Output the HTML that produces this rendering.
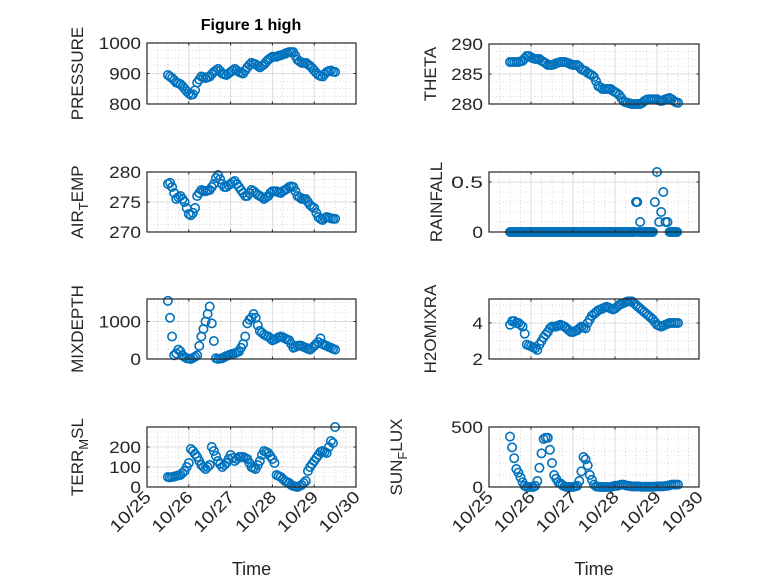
<!DOCTYPE html>
<html><head><meta charset="utf-8">
<style>
html,body{margin:0;padding:0;background:#fff;}
svg{display:block;font-family:"Liberation Sans","DejaVu Sans",sans-serif;}
</style></head>
<body>
<svg id="fig" width="778" height="583" viewBox="0 0 778 583">
<rect x="0" y="0" width="778" height="583" fill="#fff"/>
<text x="251" y="30" text-anchor="middle" font-size="16" font-weight="bold" fill="#000">Figure 1 high</text>
</svg>
<script>
// ---- data ----
const pressureT=[25.5,25.55,25.6,25.65,25.7,25.75,25.8,25.85,25.9,25.95,26.0,26.05,26.1,26.15,26.2,26.25,26.3,26.35,26.4,26.45,26.5,26.55,26.6,26.65,26.7,26.75,26.8,26.85,26.9,26.95,27.0,27.05,27.1,27.15,27.2,27.25,27.3,27.35,27.4,27.45,27.5,27.55,27.6,27.65,27.7,27.75,27.8,27.85,27.9,27.95,28.0,28.05,28.1,28.15,28.2,28.25,28.3,28.35,28.4,28.45,28.5,28.55,28.6,28.65,28.7,28.75,28.8,28.85,28.9,28.95,29.0,29.05,29.1,29.15,29.2,29.25,29.3,29.35,29.4,29.45,29.5];
const pressureV=[895,890,885,878,870,868,865,858,850,842,835,830,832,845,870,880,890,888,885,888,890,898,905,910,915,908,900,897,895,900,905,910,915,910,905,902,900,910,920,928,935,932,930,925,920,925,930,938,945,950,955,955,955,958,960,962,965,968,970,970,970,958,945,940,935,935,935,930,925,918,910,902,895,892,890,898,905,908,910,906,905];
const airT=[25.5,25.55,25.6,25.65,25.7,25.75,25.8,25.85,25.9,25.95,26.0,26.05,26.1,26.15,26.2,26.25,26.3,26.35,26.4,26.45,26.5,26.55,26.6,26.65,26.7,26.75,26.8,26.85,26.9,26.95,27.0,27.05,27.1,27.15,27.2,27.25,27.3,27.35,27.4,27.45,27.5,27.55,27.6,27.65,27.7,27.75,27.8,27.85,27.9,27.95,28.0,28.05,28.1,28.15,28.2,28.25,28.3,28.35,28.4,28.45,28.5,28.55,28.6,28.65,28.7,28.75,28.8,28.85,28.9,28.95,29.0,29.05,29.1,29.15,29.2,29.25,29.3,29.35,29.4,29.45,29.5];
const airV=[278,278.2,277.5,276.5,275.5,275.8,276,275.5,275,274,273,272.8,273.2,274,276,276.5,277,276.9,276.8,276.9,277,277.5,278,279,279.5,278.8,278,277.5,277.5,277.8,278,278.3,278.5,278,277.5,277,276.5,276,276,276.5,277,276.8,276.5,276.2,276,275.8,275.5,275.8,276,276.5,276.8,276.8,276.8,276.6,276.5,276.8,277,277.2,277.5,277.6,277.5,276.8,276,275.8,275.5,275.5,275.5,275,274.5,274.2,274,273.2,272.5,272.2,272,272.3,272.5,272.4,272.3,272.2,272.2];
const thetaT=[25.5,25.55,25.6,25.65,25.7,25.75,25.8,25.85,25.9,25.95,26.0,26.05,26.1,26.15,26.2,26.25,26.3,26.35,26.4,26.45,26.5,26.55,26.6,26.65,26.7,26.75,26.8,26.85,26.9,26.95,27.0,27.05,27.1,27.15,27.2,27.25,27.3,27.35,27.4,27.45,27.5,27.55,27.6,27.65,27.7,27.75,27.8,27.85,27.9,27.95,28.0,28.05,28.1,28.15,28.2,28.25,28.3,28.35,28.4,28.45,28.5,28.55,28.6,28.65,28.7,28.75,28.8,28.85,28.9,28.95,29.0,29.05,29.1,29.15,29.2,29.25,29.3,29.35,29.4,29.45,29.5];
const thetaV=[287,287,287,287,287,287.1,287.2,287.6,288,288,287.8,287.6,287.5,287.5,287.5,287.2,287,286.8,286.5,286.5,286.5,286.6,286.8,286.9,287,287,287,286.9,286.8,286.6,286.5,286.5,286.5,286.2,285.8,285.6,285.5,285.2,285,284.8,284.5,283.8,283,282.8,282.5,282.5,282.5,282.5,282.5,282.2,282,281.8,281.5,281,280.5,280.3,280.2,280.1,280,280,280,280,280,280.2,280.5,280.7,280.8,280.8,280.8,280.8,280.8,280.6,280.5,280.6,280.8,280.9,281,280.8,280.5,280.3,280.2];
const rainT=[25.5,25.53,25.56,25.59,25.62,25.65,25.68,25.71,25.74,25.77,25.8,25.83,25.86,25.89,25.92,25.95,25.98,26.01,26.04,26.07,26.1,26.13,26.16,26.19,26.22,26.25,26.28,26.31,26.34,26.37,26.4,26.43,26.46,26.49,26.52,26.55,26.58,26.61,26.64,26.67,26.7,26.73,26.76,26.79,26.82,26.85,26.88,26.91,26.94,26.97,27.0,27.03,27.06,27.09,27.12,27.15,27.18,27.21,27.24,27.27,27.3,27.33,27.36,27.39,27.42,27.45,27.48,27.51,27.54,27.57,27.6,27.63,27.66,27.69,27.72,27.75,27.78,27.81,27.84,27.87,27.9,27.93,27.96,27.99,28.02,28.05,28.08,28.11,28.14,28.17,28.2,28.23,28.26,28.29,28.32,28.35,28.38,28.41,28.44,28.47,28.5,28.53,28.56,28.6,28.63,28.66,28.69,28.72,28.75,28.78,28.81,28.84,28.87,28.9,28.95,29.0,29.05,29.1,29.15,29.2,29.25,29.3,29.33,29.36,29.39,29.42,29.45,29.48];
const rainV=[0,0,0,0,0,0,0,0,0,0,0,0,0,0,0,0,0,0,0,0,0,0,0,0,0,0,0,0,0,0,0,0,0,0,0,0,0,0,0,0,0,0,0,0,0,0,0,0,0,0,0,0,0,0,0,0,0,0,0,0,0,0,0,0,0,0,0,0,0,0,0,0,0,0,0,0,0,0,0,0,0,0,0,0,0,0,0,0,0,0,0,0,0,0,0,0,0,0,0,0,0.3,0.3,0,0.1,0,0,0,0,0,0,0,0,0,0,0.3,0.6,0.1,0.2,0.4,0.1,0.1,0,0,0,0,0,0,0];
const mixT=[25.5,25.55,25.6,25.65,25.7,25.75,25.8,25.85,25.9,25.95,26.0,26.05,26.1,26.15,26.2,26.25,26.3,26.35,26.4,26.45,26.5,26.55,26.6,26.65,26.7,26.75,26.8,26.85,26.9,26.95,27.0,27.05,27.1,27.15,27.2,27.25,27.3,27.35,27.4,27.45,27.5,27.55,27.6,27.65,27.7,27.75,27.8,27.85,27.9,27.95,28.0,28.05,28.1,28.15,28.2,28.25,28.3,28.35,28.4,28.45,28.5,28.55,28.6,28.65,28.7,28.75,28.8,28.85,28.9,28.95,29.0,29.05,29.1,29.15,29.2,29.25,29.3,29.35,29.4,29.45,29.5];
const mixV=[1550,1100,600,100,150,250,200,100,50,20,10,0,30,60,100,350,600,800,1000,1200,1400,950,480,20,0,10,20,50,80,100,120,140,150,180,200,300,400,600,950,1050,1100,1200,1100,900,750,700,650,620,600,550,500,520,550,580,600,580,550,520,500,400,300,320,350,360,350,320,300,270,250,300,350,400,450,550,400,370,350,320,300,270,250];
const h2oT=[25.5,25.55,25.6,25.65,25.7,25.75,25.8,25.85,25.9,25.95,26.0,26.05,26.1,26.15,26.2,26.25,26.3,26.35,26.4,26.45,26.5,26.55,26.6,26.65,26.7,26.75,26.8,26.85,26.9,26.95,27.0,27.05,27.1,27.15,27.2,27.25,27.3,27.35,27.4,27.45,27.5,27.55,27.6,27.65,27.7,27.75,27.8,27.85,27.9,27.95,28.0,28.05,28.1,28.15,28.2,28.25,28.3,28.35,28.4,28.45,28.5,28.55,28.6,28.65,28.7,28.75,28.8,28.85,28.9,28.95,29.0,29.05,29.1,29.15,29.2,29.25,29.3,29.35,29.4,29.45,29.5];
const h2oV=[3.9,4.1,4.1,4.0,4.0,3.9,3.8,3.4,2.8,2.75,2.7,2.65,2.6,2.5,2.8,3.0,3.2,3.35,3.5,3.7,3.8,3.8,3.8,3.85,3.9,3.85,3.8,3.7,3.6,3.5,3.5,3.55,3.6,3.7,3.8,3.75,3.7,4.0,4.2,4.4,4.5,4.6,4.7,4.75,4.8,4.85,4.9,4.85,4.8,4.75,4.8,4.9,5.0,5.05,5.1,5.15,5.2,5.2,5.2,5.1,5.0,4.9,4.8,4.7,4.6,4.5,4.4,4.3,4.2,4.05,3.9,3.85,3.8,3.85,3.9,3.95,4.0,4.0,4.0,4.0,4.0];
const terrT=[25.5,25.55,25.6,25.65,25.7,25.75,25.8,25.85,25.9,25.95,26.0,26.05,26.1,26.15,26.2,26.25,26.3,26.35,26.4,26.45,26.5,26.55,26.6,26.65,26.7,26.75,26.8,26.85,26.9,26.95,27.0,27.05,27.1,27.15,27.2,27.25,27.3,27.35,27.4,27.45,27.5,27.55,27.6,27.65,27.7,27.75,27.8,27.85,27.9,27.95,28.0,28.05,28.1,28.15,28.2,28.25,28.3,28.35,28.4,28.45,28.5,28.55,28.6,28.65,28.7,28.75,28.8,28.85,28.9,28.95,29.0,29.05,29.1,29.15,29.2,29.25,29.3,29.35,29.4,29.45,29.5];
const terrV=[50,48,50,52,55,58,60,70,80,100,120,190,180,165,150,130,110,100,90,100,110,200,180,155,130,115,100,110,120,140,160,145,130,140,150,150,150,145,140,120,100,95,90,110,130,160,180,175,170,155,140,120,60,55,50,40,30,25,20,10,5,2,0,5,10,20,30,80,100,115,130,145,160,175,180,175,170,200,230,220,300];
const sunT=[25.5,25.55,25.6,25.65,25.7,25.75,25.8,25.85,25.9,25.95,26.0,26.05,26.1,26.15,26.2,26.25,26.3,26.35,26.4,26.45,26.5,26.55,26.6,26.65,26.7,26.75,26.8,26.85,26.9,26.95,27.0,27.05,27.1,27.15,27.2,27.25,27.3,27.35,27.4,27.45,27.5,27.55,27.6,27.65,27.7,27.75,27.8,27.85,27.9,27.95,28.0,28.05,28.1,28.15,28.2,28.25,28.3,28.35,28.4,28.45,28.5,28.55,28.6,28.65,28.7,28.75,28.8,28.85,28.9,28.95,29.0,29.05,29.1,29.15,29.2,29.25,29.3,29.35,29.4,29.45,29.5];
const sunV=[420,330,240,150,120,80,40,10,0,0,0,0,10,50,160,280,400,410,410,310,200,100,70,40,30,15,5,0,0,0,0,5,10,50,130,250,230,180,100,60,20,5,2,0,0,0,0,0,0,5,10,10,15,20,20,15,10,8,5,5,5,5,3,2,2,2,2,2,2,3,5,5,5,5,8,10,15,20,20,20,20];
const xTickLabels=["10/25","10/26","10/27","10/28","10/29","10/30"];
const xTickDays=[25,26,27,28,29,30];
const pressureTicks=[800,900,1000], thetaTicks=[280,285,290], airTicks=[270,275,280], rainTicks=[0,0.5];
const mixTicks=[0,1000], h2oTicks=[2,4], terrTicks=[0,100,200], sunTicks=[0,500];

const NS="http://www.w3.org/2000/svg";
const svg=document.getElementById('fig');
function mk(tag,attrs,parent){const e=document.createElementNS(NS,tag);for(const k in attrs)e.setAttribute(k,attrs[k]);(parent||svg).appendChild(e);return e;}

function panel(o){
  const g=mk('g',{});
  
  
  const L=o.x0,R=o.x1,T=o.y0,B=o.y1;
  const sx=d=>L+(d-25)/5*(R-L);
  const sy=v=>B-(v-o.ymin)/(o.ymax-o.ymin)*(B-T);
  mk('rect',{x:L,y:T,width:R-L,height:B-T,fill:'#fff'},g);
  for(let d=25;d<=30.001;d+=0.25){if(Math.abs(d-Math.round(d))<1e-6)continue;
    mk('line',{x1:sx(d),x2:sx(d),y1:T,y2:B,stroke:'#bbb','stroke-width':0.6,'stroke-dasharray':'1 2.5'},g);}
  for(let v=o.ymin;v<=o.ymax+1e-9;v+=o.minor){
    mk('line',{x1:L,x2:R,y1:sy(v),y2:sy(v),stroke:'#bbb','stroke-width':0.6,'stroke-dasharray':'1 2.5'},g);}
  xTickDays.forEach(d=>mk('line',{x1:sx(d),x2:sx(d),y1:T,y2:B,stroke:'#dcdcdc','stroke-width':1},g));
  o.ticks.forEach(v=>mk('line',{x1:L,x2:R,y1:sy(v),y2:sy(v),stroke:'#dcdcdc','stroke-width':1},g));
  const dg=mk('g',{},g);
  
  
  o.t.forEach((d,i)=>{
    const c=mk('circle',{cx:sx(d),cy:sy(o.v[i]),r:4.2,fill:'none',stroke:'#0072BD','stroke-width':1.6},dg);
    
    
  });
  mk('rect',{x:L,y:T,width:R-L,height:B-T,fill:'none',stroke:'#262626','stroke-width':1.2},g);
  xTickDays.forEach(d=>{mk('line',{x1:sx(d),x2:sx(d),y1:B,y2:B-2.5,stroke:'#262626'},g);mk('line',{x1:sx(d),x2:sx(d),y1:T,y2:T+2.5,stroke:'#262626'},g);});
  o.ticks.forEach(v=>{
    mk('line',{x1:L,x2:L+2.5,y1:sy(v),y2:sy(v),stroke:'#262626'},g);
    mk('line',{x1:R,x2:R-2.5,y1:sy(v),y2:sy(v),stroke:'#262626'},g);
    const s=String(v);
    const t=mk('text',{x:L-6,y:sy(v)+6,'text-anchor':'end','font-size':17,fill:'#262626',textLength:s.length*10.6,lengthAdjust:'spacingAndGlyphs'},g);
    t.textContent=s;
    
    
  });
  const cy=(T+B)/2;
  const yl=mk('text',{x:0,y:0,transform:`translate(${o.lx},${cy}) rotate(-90)`,'text-anchor':'middle','font-size':17,fill:'#262626'},g);
  
  
  if(o.sub){
    const a=mk('tspan',{},yl);a.textContent=o.sub[0];
    const b=mk('tspan',{dy:5,'font-size':13},yl);b.textContent=o.sub[1];
    const c=mk('tspan',{dy:-5},yl);c.textContent=o.sub[2];
  } else yl.textContent=o.label;
  if(o.xlabels){
    xTickDays.forEach((d,i)=>{
      const t=mk('text',{x:0,y:0,transform:`translate(${sx(d)+5},${B+11}) rotate(-45)`,'text-anchor':'end','font-size':17,fill:'#262626',textLength:50,lengthAdjust:'spacingAndGlyphs'},g);
      t.textContent=xTickLabels[i];
      
      
    });
    const xt=mk('text',{x:(L+R)/2,y:575,'text-anchor':'middle','font-size':18,fill:'#262626'},g);
    xt.textContent='Time';
    
    
  }
}
const LX0=147,LX1=356,RX0=489,RX1=699;
panel({name:'pressure',x0:LX0,x1:LX1,y0:43,y1:104,ymin:800,ymax:1000,minor:25,ticks:pressureTicks,t:pressureT,v:pressureV,label:'PRESSURE',lx:83});
panel({name:'theta',x0:RX0,x1:RX1,y0:44,y1:104,ymin:280,ymax:290,minor:1.25,ticks:thetaTicks,t:thetaT,v:thetaV,label:'THETA',lx:436});
panel({name:'air-temp',x0:LX0,x1:LX1,y0:172,y1:232,ymin:270,ymax:280,minor:1.25,ticks:airTicks,t:airT,v:airV,sub:['AIR','T','EMP'],lx:83});
panel({name:'rainfall',x0:RX0,x1:RX1,y0:172,y1:232,ymin:0,ymax:0.6,minor:0.1,ticks:rainTicks,t:rainT,v:rainV,label:'RAINFALL',lx:442});
panel({name:'mixdepth',x0:LX0,x1:LX1,y0:299,y1:359,ymin:0,ymax:1600,minor:250,ticks:mixTicks,t:mixT,v:mixV,label:'MIXDEPTH',lx:83});
panel({name:'h2omixra',x0:RX0,x1:RX1,y0:299,y1:359,ymin:2,ymax:5.33,minor:0.5,ticks:h2oTicks,t:h2oT,v:h2oV,label:'H2OMIXRA',lx:436});
panel({name:'terr-msl',x0:LX0,x1:LX1,y0:427,y1:487,ymin:0,ymax:300,minor:25,ticks:terrTicks,t:terrT,v:terrV,sub:['TERR','M','SL'],lx:83,xlabels:true});
panel({name:'sun-flux',x0:RX0,x1:RX1,y0:427,y1:487,ymin:0,ymax:500,minor:100,ticks:sunTicks,t:sunT,v:sunV,sub:['SUN','F','LUX'],lx:402,xlabels:true});
</script>
</body></html>
